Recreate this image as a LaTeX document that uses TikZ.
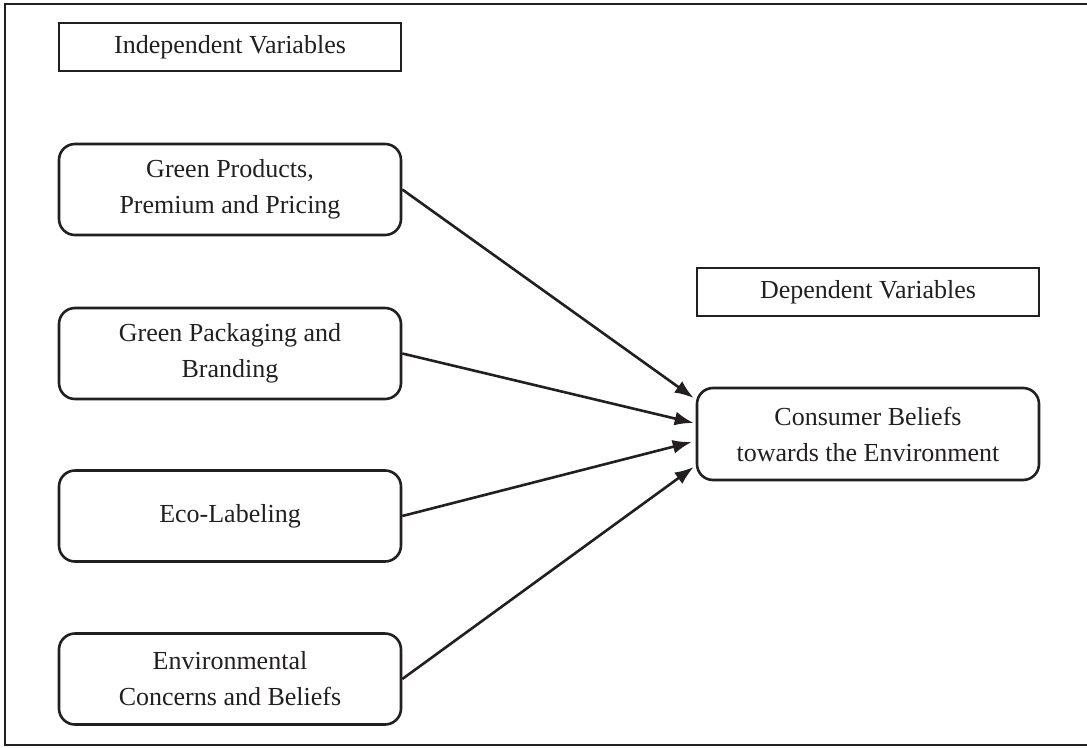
\documentclass[tikz,border=0pt]{standalone}
\usepackage{fontspec}
\setmainfont{Liberation Serif}
\usetikzlibrary{arrows.meta}
\definecolor{ink}{HTML}{231F20}
\begin{document}
\begin{tikzpicture}[x=1pt,y=-1pt,
  every node/.style={font=\fontsize{26}{36}\selectfont, text=ink},
  plainbox/.style={draw=ink, line width=2.6pt, rectangle, minimum width=342pt, minimum height=48pt, inner sep=0pt, align=center},
  roundbox/.style={draw=ink, line width=2.6pt, rectangle, rounded corners=16pt, minimum width=342pt, minimum height=91pt, inner sep=0pt, align=center},
  link/.style={draw=ink, line width=2.6pt, -{Latex[length=19pt,width=14pt]}}]
\useasboundingbox (0,0) rectangle (1087,747);
\draw[ink, line width=2.6pt] (5,4) rectangle (1100,745);
\node[plainbox] (indep) at (230,47) {Independent Variables};
\node[roundbox] (gp) at (230,189.5) {Green Products,\\Premium and Pricing};
\node[roundbox] (pack) at (230,353.5) {Green Packaging and\\Branding};
\node[roundbox] (eco) at (230,516) {Eco-Labeling};
\node[roundbox] (env) at (230,679) {Environmental\\Concerns and Beliefs};
\node[plainbox] (dep) at (868,292) {Dependent Variables};
\node[roundbox, minimum height=92pt] (cb) at (868,434) {Consumer Beliefs\\towards the Environment};
\draw[link] (gp.east) -- ([yshift=36pt,xshift=-2pt]cb.west);
\draw[link] (pack.east) -- ([yshift=11pt,xshift=-2pt]cb.west);
\draw[link] (eco.east) -- ([yshift=-8pt,xshift=-4pt]cb.west);
\draw[link] (env.east) -- ([yshift=-33pt,xshift=-2pt]cb.west);
\end{tikzpicture}
\end{document}
